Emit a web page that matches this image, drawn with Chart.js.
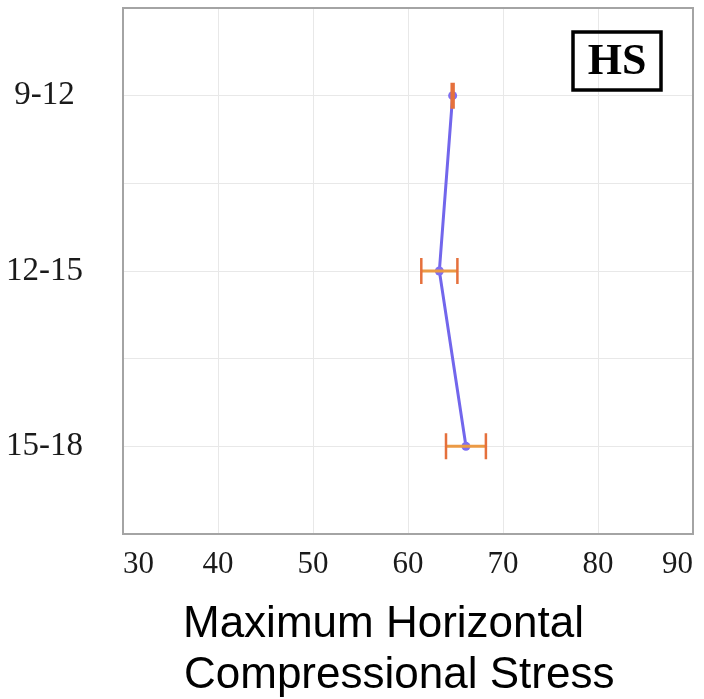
<!DOCTYPE html>
<html>
<head>
<meta charset="utf-8">
<script src="https://cdn.jsdelivr.net/npm/chart.js@4.4.0/dist/chart.umd.min.js"></script>
<style>
  html, body { margin: 0; padding: 0; background: #fff; }
  #wrap { position: relative; width: 704px; height: 699px; }
</style>
</head>
<body>
<div id="wrap"><canvas id="myChart"></canvas></div>
<script>
// depth intervals (top to bottom) and max horizontal compressional stress
const depths = ['9-12', '12-15', '15-18'];
const stressMean = [64.7, 63.3, 66.1];
const stressErr = [0.1, 1.9, 2.1];
const xTicks = [30, 40, 50, 60, 70, 80, 90];
const xTitle = ['Maximum Horizontal', 'Compressional Stress'];
const panelLabel = 'HS';

const serif = "'Liberation Serif', 'DejaVu Serif', serif";
const sans = "'Liberation Sans', Arial, sans-serif";

let points = [];
for (let i = 0; i < depths.length; i++) {
    points.push({ x: stressMean[i], y: i });
}

// horizontal error bars + box round the plot + HS tag + axis title
const extras = {
    id: 'extras',
    afterDatasetsDraw(chart) {
        const ctx = chart.ctx;
        const xs = chart.scales.x;
        const ys = chart.scales.y;
        ctx.save();
        for (let i = 0; i < depths.length; i++) {
            let y = ys.getPixelForValue(i);
            let x1 = xs.getPixelForValue(stressMean[i] - stressErr[i]);
            let x2 = xs.getPixelForValue(stressMean[i] + stressErr[i]);
            ctx.strokeStyle = '#eb9a45';
            ctx.lineWidth = 3;
            ctx.beginPath();
            ctx.moveTo(x1, y);
            ctx.lineTo(x2, y);
            ctx.stroke();
            ctx.strokeStyle = '#e5703c';
            ctx.lineWidth = 2.5;
            ctx.beginPath();
            ctx.moveTo(x1, y - 13);
            ctx.lineTo(x1, y + 13);
            ctx.moveTo(x2, y - 13);
            ctx.lineTo(x2, y + 13);
            ctx.stroke();
        }
        const a = chart.chartArea;
        ctx.strokeStyle = '#a4a4a4';
        ctx.lineWidth = 2;
        ctx.strokeRect(a.left, a.top, a.right - a.left, a.bottom - a.top);

        // HS box
        let bx = a.right - 120, by = a.top + 24;
        ctx.strokeStyle = '#000';
        ctx.lineWidth = 3.5;
        ctx.strokeRect(bx, by, 88, 58);
        ctx.fillStyle = '#000';
        ctx.font = "bold 44px " + serif;
        ctx.textAlign = 'center';
        ctx.textBaseline = 'middle';
        ctx.fillText(panelLabel, bx + 44, by + 31);

        // x axis title, left aligned like the original
        ctx.font = "44px " + sans;
        ctx.textAlign = 'left';
        ctx.textBaseline = 'alphabetic';
        ctx.fillText(xTitle[0], a.left + 60, chart.height - 62);
        ctx.fillText(xTitle[1], a.left + 61, chart.height - 11);
        ctx.restore();
    }
};

const ctx = document.getElementById('myChart').getContext('2d');
const myChart = new Chart(ctx, {
    type: 'line',
    data: {
        datasets: [
            {
                data: points,
                borderColor: '#7266ec',
                backgroundColor: '#7f6ff2',
                borderWidth: 3,
                pointRadius: 4.5,
                pointBorderWidth: 0,
                tension: 0
            }
        ]
    },
    options: {
        responsive: true,
        maintainAspectRatio: false,
        animation: false,
        layout: {
            padding: { left: 0, top: 8, right: 11, bottom: 0 }
        },
        plugins: {
            legend: { display: false },
            tooltip: { enabled: false }
        },
        scales: {
            x: {
                type: 'linear',
                min: 30,
                max: 90,
                afterBuildTicks: (scale) => {
                    scale.ticks = xTicks.map(v => ({ value: v }));
                },
                grid: { color: '#e8e8e8', lineWidth: 1, drawTicks: false },
                border: { display: false },
                ticks: {
                    color: '#1a1a1a',
                    padding: 12,
                    maxRotation: 0,
                    align: 'inner',
                    font: { family: serif, size: 31 }
                },
                afterFit: (scale) => {
                    scale.height = 165;
                    scale.paddingLeft = 0;
                    scale.paddingRight = 0;
                }
            },
            y: {
                type: 'linear',
                reverse: true,
                min: -0.5,
                max: 2.5,
                ticks: {
                    stepSize: 0.5,
                    color: '#1a1a1a',
                    padding: 40,
                    crossAlign: 'center',
                    font: { family: serif, size: 33 },
                    callback: function (v) {
                        return Number.isInteger(v) ? depths[v] : '';
                    }
                },
                grid: { color: '#e8e8e8', lineWidth: 1, drawTicks: false },
                border: { display: false },
                afterFit: (scale) => {
                    scale.width = 123;
                    scale.paddingTop = 0;
                    scale.paddingBottom = 0;
                }
            }
        }
    },
    plugins: [extras]
});
</script>
</body>
</html>
